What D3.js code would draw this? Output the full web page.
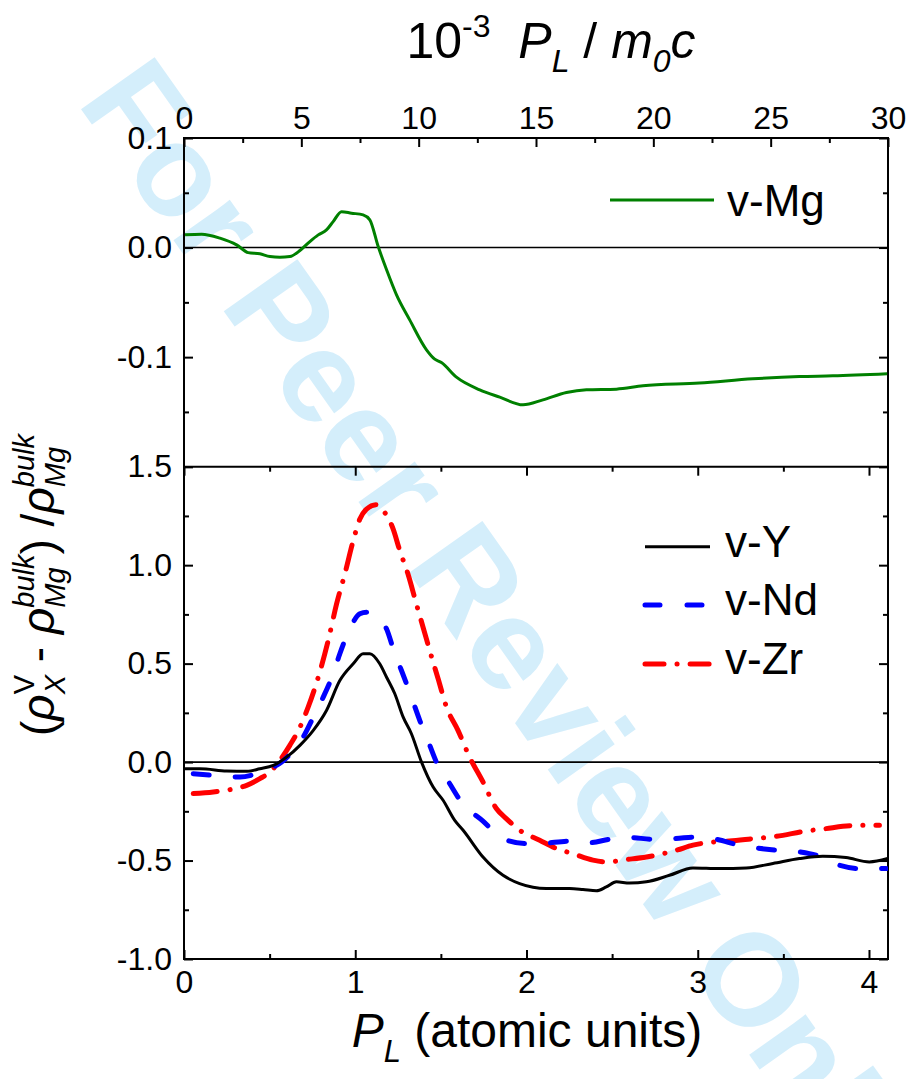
<!DOCTYPE html>
<html><head><meta charset="utf-8">
<script src="https://cdn.jsdelivr.net/npm/d3@7"></script>
<style>
html,body{margin:0;padding:0;background:#fff;}
svg{display:block;font-family:"Liberation Sans",Arial,Helvetica,sans-serif;}
text{white-space:pre;}
</style></head>
<body><svg id="c" width="912" height="1079"></svg>
<script>
// ---------- data ----------
const auMax = 30 / 7.2974;             // 30e-3 m0c expressed in atomic units
const topTicks = [0, 5, 10, 15, 20, 25, 30];
const topMinor = [2.5, 7.5, 12.5, 17.5, 22.5, 27.5];
const botTicks = [0, 1, 2, 3, 4];
const botMinor = [0.5, 1.5, 2.5, 3.5];
const yTopLabels = [0.1, 0.0, -0.1];
const yTopMajor = [0.1, 0.0, -0.1, -0.2];
const yTopMinor = [0.05, -0.05, -0.15];
const yBotLabels = [1.5, 1.0, 0.5, 0.0, -0.5, -1.0];
const yBotMinor = [1.25, 0.75, 0.25, -0.25, -0.75];

const mgX = [0.006,0.103,0.21,0.307,0.375,0.443,0.502,0.56,0.618,0.677,0.735,0.784,0.832,0.871,0.92,0.978,1.046,1.085,1.134,1.183,1.241,1.318,1.416,1.464,1.503,1.591,1.727,1.844,1.98,2.096,2.233,2.35,2.525,2.68,3.01,3.322,3.594,3.789,4.106];
const mgY = [0.0116,0.0122,0.0086,0.0025,-0.0046,-0.0057,-0.0082,-0.0088,-0.0082,-0.0027,0.0055,0.0116,0.0161,0.0237,0.0328,0.0314,0.0298,0.0253,0.0009,-0.0203,-0.0432,-0.066,-0.0933,-0.1018,-0.1049,-0.1183,-0.1298,-0.1365,-0.1435,-0.139,-0.1323,-0.1298,-0.1292,-0.1262,-0.1237,-0.1198,-0.1177,-0.1171,-0.1152];

const vyX = [0.006,0.093,0.249,0.366,0.443,0.521,0.599,0.677,0.755,0.832,0.91,0.988,1.046,1.085,1.143,1.183,1.231,1.28,1.328,1.387,1.455,1.513,1.581,1.63,1.746,1.863,1.96,2.116,2.252,2.33,2.408,2.466,2.525,2.602,2.7,2.835,2.972,3.127,3.283,3.439,3.594,3.73,3.866,4.002,4.109];
const vyY = [-0.034,-0.034,-0.045,-0.047,-0.034,-0.017,0.025,0.085,0.161,0.262,0.414,0.499,0.55,0.55,0.499,0.431,0.347,0.228,0.144,0.0,-0.127,-0.194,-0.296,-0.346,-0.482,-0.575,-0.617,-0.642,-0.642,-0.647,-0.654,-0.634,-0.608,-0.614,-0.608,-0.575,-0.538,-0.541,-0.538,-0.515,-0.49,-0.478,-0.485,-0.507,-0.49];

const ndX = [0.054,0.171,0.327,0.424,0.502,0.57,0.638,0.696,0.755,0.813,0.871,0.91,0.968,1.027,1.066,1.124,1.183,1.231,1.27,1.328,1.377,1.435,1.474,1.552,1.62,1.746,1.863,1.999,2.077,2.252,2.35,2.505,2.602,2.738,2.855,3.01,3.107,3.243,3.418,3.594,3.691,3.827,3.944,4.1];
const ndY = [-0.059,-0.067,-0.076,-0.059,-0.034,0.0,0.059,0.127,0.228,0.33,0.448,0.55,0.676,0.753,0.761,0.735,0.676,0.55,0.465,0.33,0.211,0.085,0.0,-0.11,-0.203,-0.3,-0.389,-0.414,-0.414,-0.401,-0.411,-0.389,-0.383,-0.392,-0.389,-0.38,-0.392,-0.422,-0.444,-0.456,-0.473,-0.524,-0.541,-0.541];

const zrX = [0.054,0.171,0.268,0.366,0.443,0.502,0.56,0.618,0.677,0.725,0.784,0.842,0.891,0.939,0.988,1.027,1.066,1.124,1.172,1.221,1.26,1.308,1.357,1.396,1.435,1.484,1.533,1.6,1.668,1.746,1.824,1.882,1.96,2.077,2.174,2.271,2.388,2.466,2.583,2.7,2.797,2.874,2.972,3.088,3.185,3.322,3.458,3.633,3.749,3.847,3.944,4.061];
const zrY = [-0.16,-0.152,-0.14,-0.118,-0.084,-0.051,0.009,0.085,0.177,0.279,0.431,0.617,0.803,0.955,1.124,1.234,1.285,1.307,1.268,1.184,1.074,0.955,0.803,0.685,0.566,0.423,0.279,0.161,0.025,-0.101,-0.236,-0.287,-0.346,-0.397,-0.439,-0.465,-0.498,-0.507,-0.495,-0.482,-0.465,-0.448,-0.422,-0.406,-0.401,-0.389,-0.377,-0.35,-0.338,-0.326,-0.321,-0.321];

const topSeries = [{name:"v-Mg", xs:mgX, ys:mgY, color:"#008000", width:3, dash:null}];
const botSeries = [
  {name:"v-Y",  xs:vyX, ys:vyY, color:"#000000", width:3, dash:null, ldash:null},
  {name:"v-Nd", xs:ndX, ys:ndY, color:"#0000ff", width:5, dash:"16,26", ldash:"15,27"},
  {name:"v-Zr", xs:zrX, ys:zrY, color:"#ff0000", width:5, dash:"24,13,0.1,13", ldash:"19,13,0.1,13"}
];

// ---------- layout ----------
const L = 184, R = 888, T = 138, M = 466.7, B = 959;
const svg = d3.select("#c");

// watermark (behind the chart)
svg.append("text").attr("transform","translate(76,102) rotate(54.75)")
  .attr("font-size",131).attr("font-weight","bold").attr("fill","rgb(212,238,251)")
  .text("For Peer Review Only");

const x = d3.scaleLinear().domain([0, auMax]).range([L, R]);
const xTop = d3.scaleLinear().domain([0, 30]).range([L, R]);
const yT = d3.scaleLinear().domain([-0.2, 0.1]).range([M, T]);
const yB = d3.scaleLinear().domain([-1.0, 1.5]).range([B, M]);

const fmt = d => (Math.abs(d) < 1e-9 ? 0 : d).toFixed(1);
const TF = 32, MAJ = 9, MIN = 5;

function styleAxis(g, fs){
  g.select(".domain").remove();
  g.selectAll(".tick line").attr("stroke","#000").attr("stroke-width",2);
  g.selectAll(".tick text").attr("font-size",fs).attr("fill","#000").attr("font-family",'"Liberation Sans",Arial,sans-serif');
}

// zero lines
svg.append("line").attr("x1",L).attr("x2",R).attr("y1",yT(0)).attr("y2",yT(0)).attr("stroke","#000").attr("stroke-width",1.6);
svg.append("line").attr("x1",L).attr("x2",R).attr("y1",yB(0)).attr("y2",yB(0)).attr("stroke","#000").attr("stroke-width",1.6);

// axes - top panel
svg.append("g").attr("transform",`translate(0,${T})`).call(d3.axisTop(xTop).tickValues(topTicks).tickSize(-MAJ).tickPadding(9).tickFormat(d3.format("d"))).call(g=>styleAxis(g,TF));
svg.append("g").attr("transform",`translate(0,${T})`).call(d3.axisTop(xTop).tickValues(topMinor).tickSize(-MIN).tickFormat("")).call(g=>styleAxis(g,TF));
svg.append("g").attr("transform",`translate(${L},0)`).call(d3.axisLeft(yT).tickValues(yTopLabels).tickSize(-MAJ).tickPadding(12).tickFormat(fmt)).call(g=>styleAxis(g,TF));
svg.append("g").attr("transform",`translate(${L},0)`).call(d3.axisLeft(yT).tickValues([-0.2]).tickSize(-MAJ).tickFormat("")).call(g=>styleAxis(g,TF));
svg.append("g").attr("transform",`translate(${L},0)`).call(d3.axisLeft(yT).tickValues(yTopMinor).tickSize(-MIN).tickFormat("")).call(g=>styleAxis(g,TF));
svg.append("g").attr("transform",`translate(${R},0)`).call(d3.axisRight(yT).tickValues(yTopMajor).tickSize(-MAJ).tickFormat("")).call(g=>styleAxis(g,TF));
svg.append("g").attr("transform",`translate(${R},0)`).call(d3.axisRight(yT).tickValues(yTopMinor).tickSize(-MIN).tickFormat("")).call(g=>styleAxis(g,TF));

// axes - bottom panel
svg.append("g").attr("transform",`translate(0,${B})`).call(d3.axisBottom(x).tickValues(botTicks).tickSize(-MAJ).tickPadding(11).tickFormat(d3.format("d"))).call(g=>styleAxis(g,TF));
svg.append("g").attr("transform",`translate(0,${B})`).call(d3.axisBottom(x).tickValues(botMinor).tickSize(-MIN).tickFormat("")).call(g=>styleAxis(g,TF));
svg.append("g").attr("transform",`translate(0,${M})`).call(d3.axisTop(x).tickValues(botTicks).tickSize(-MAJ).tickFormat("")).call(g=>styleAxis(g,TF));
svg.append("g").attr("transform",`translate(0,${M})`).call(d3.axisTop(x).tickValues(botMinor).tickSize(-MIN).tickFormat("")).call(g=>styleAxis(g,TF));
svg.append("g").attr("transform",`translate(${L},0)`).call(d3.axisLeft(yB).tickValues(yBotLabels).tickSize(-MAJ).tickPadding(12).tickFormat(fmt)).call(g=>styleAxis(g,TF));
svg.append("g").attr("transform",`translate(${L},0)`).call(d3.axisLeft(yB).tickValues(yBotMinor).tickSize(-MIN).tickFormat("")).call(g=>styleAxis(g,TF));
svg.append("g").attr("transform",`translate(${R},0)`).call(d3.axisRight(yB).tickValues(yBotLabels).tickSize(-MAJ).tickFormat("")).call(g=>styleAxis(g,TF));
svg.append("g").attr("transform",`translate(${R},0)`).call(d3.axisRight(yB).tickValues(yBotMinor).tickSize(-MIN).tickFormat("")).call(g=>styleAxis(g,TF));

// frame
svg.append("rect").attr("x",L).attr("y",T).attr("width",R-L).attr("height",B-T).attr("fill","none").attr("stroke","#000").attr("stroke-width",2);
svg.append("line").attr("x1",L).attr("x2",R).attr("y1",M).attr("y2",M).attr("stroke","#000").attr("stroke-width",2);

// clips
const defs = svg.append("defs");
defs.append("clipPath").attr("id","cT").append("rect").attr("x",L).attr("y",T).attr("width",R-L).attr("height",M-T);
defs.append("clipPath").attr("id","cB").append("rect").attr("x",L).attr("y",M).attr("width",R-L).attr("height",B-M);

function drawSeries(list, ys, clip){
  const g = svg.append("g").attr("clip-path",`url(#${clip})`);
  list.forEach(s=>{
    const pts = s.xs.map((v,i)=>[v, s.ys[i]]);
    const line = d3.line().x(d=>x(d[0])).y(d=>ys(d[1])).curve(d3.curveMonotoneX);
    g.append("path").attr("d",line(pts)).attr("fill","none").attr("stroke",s.color)
      .attr("stroke-width",s.width).attr("stroke-linecap",s.dash?"round":"butt").attr("stroke-linejoin","round")
      .attr("stroke-dasharray",s.dash);
  });
}
drawSeries(botSeries.slice().reverse(), yB, "cB");
drawSeries(topSeries, yT, "cT");

// legends
const LF = 44;
svg.append("line").attr("x1",610).attr("x2",714).attr("y1",200).attr("y2",200).attr("stroke",topSeries[0].color).attr("stroke-width",3);
svg.append("text").attr("x",727).attr("y",216).attr("font-size",LF).text(topSeries[0].name);
const legY = [546.7, 605, 664];
botSeries.forEach((s,i)=>{
  svg.append("line").attr("x1",645).attr("x2",710).attr("y1",legY[i]).attr("y2",legY[i]).attr("stroke",s.color)
    .attr("stroke-width",s.width).attr("stroke-linecap",s.ldash?"round":"butt").attr("stroke-dasharray",s.ldash);
  svg.append("text").attr("x",725).attr("y",legY[i]+10).attr("font-size",LF).text(s.name);
});

// rich text helper (sub/superscripts, stacked pairs)
function rich(textSel, parts){
  let prev = 0; const spans = [];
  parts.forEach(p=>{
    const sh = p.sh || 0;
    const ts = textSel.append("tspan").text(p.t).attr("font-size",p.sz).attr("dy",sh-prev);
    if (p.it) ts.attr("font-style","italic");
    prev = sh; spans.push({ts,p});
  });
  spans.forEach((o,i)=>{
    if (o.p.stack){
      const wP = spans[i-1].ts.node().getComputedTextLength();
      const wC = o.ts.node().getComputedTextLength();
      o.ts.attr("dx",-wP);
      if (wP > wC && spans[i+1]) spans[i+1].ts.attr("dx", wP-wC);
    }
  });
}

// top title
const tt = svg.append("text").attr("x",551).attr("y",58).attr("text-anchor","middle");
rich(tt,[
  {t:"10",sz:50},{t:"-3",sz:32,sh:-21},{t:"  ",sz:50},
  {t:"P",sz:50,it:true},{t:"L",sz:32,it:true,sh:14},{t:" / ",sz:50},
  {t:"m",sz:50,it:true},{t:"0",sz:32,it:true,sh:14},{t:"c",sz:50,it:true}
]);

// bottom title
const bt = svg.append("text").attr("x",527).attr("y",1047).attr("text-anchor","middle");
rich(bt,[
  {t:"P",sz:48,it:true},{t:"L",sz:31,it:true,sh:15},{t:" (atomic units)",sz:48}
]);

// y label
const yl = svg.append("text").attr("transform","translate(54,585) rotate(-90)").attr("text-anchor","middle");
rich(yl,[
  {t:"(",sz:46},{t:"ρ",sz:46,it:true},
  {t:"V",sz:29,sh:-20},{t:"X",sz:29,it:true,sh:11,stack:true},
  {t:" - ",sz:46},{t:"ρ",sz:46,it:true},
  {t:"bulk",sz:29,it:true,sh:-20},{t:"Mg",sz:29,it:true,sh:11,stack:true},
  {t:")",sz:46},{t:" /",sz:46},{t:"ρ",sz:46,it:true},
  {t:"bulk",sz:29,it:true,sh:-20},{t:"Mg",sz:29,it:true,sh:11,stack:true}
]);
</script></body></html>
